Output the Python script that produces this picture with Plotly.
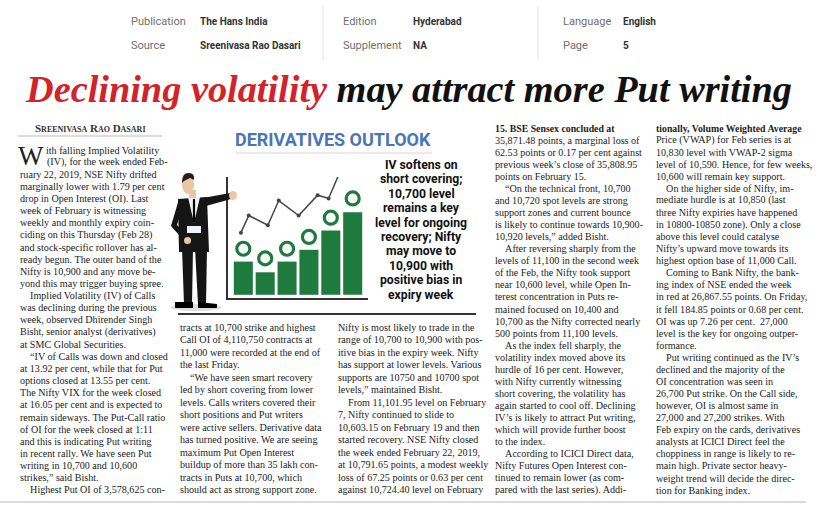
import plotly.graph_objects as go

W, H = 825, 510

SERIF = "Liberation Serif"
SANS = "Roboto"
INK = "#222222"
RED = "#d2232a"
GREEN = "#1f7a3d"
BLUE = "#4a76b9"

# ---- clipping header ----
meta_labels = ["Publication", "Source", "Edition", "Supplement", "Language", "Page"]
meta_values = ["The Hans India", "Sreenivasa Rao Dasari", "Hyderabad", "NA", "English", "5"]

title_red = "Declining volatility"
title_black = "may attract more Put writing"
byline = "Sreenivasa Rao Dasari"

# ---- infographic ----
box_title = "DERIVATIVES OUTLOOK"
box_blurb = [
    "IV softens on", "short covering;", "10,700 level", "remains a key",
    "level for ongoing", "recovery; Nifty", "may move to", "10,900 with",
    "positive bias in", "expiry week",
]
bar_values = [31, 21, 31, 42, 60, 77]
ring_values = [43, 34, 43, 54, 72, 90]
trend_x = [-0.11, 0.25, 1.12, 1.62, 2.53, 3.40, 3.90, 4.36]
trend_y = [58, 74, 65, 88, 74, 93, 90, 112]

# ---- article body (leading spaces = paragraph indent) ----
col1 = [
    "ith falling Implied Volatility",
    "(IV), for the week ended Feb-",
    "ruary 22, 2019, NSE Nifty drifted",
    "marginally lower with 1.79 per cent",
    "drop in Open Interest (OI). Last",
    "week of February is witnessing",
    "weekly and monthly expiry coin-",
    "ciding on this Thursday (Feb 28)",
    "and stock-specific rollover has al-",
    "ready begun. The outer band of the",
    "Nifty is 10,900 and any move be-",
    "yond this may trigger buying spree.",
    "  Implied Volatility (IV) of Calls",
    "was declining during the previous",
    "week, observed Dhirender Singh",
    "Bisht, senior analyst (derivatives)",
    "at SMC Global Securities.",
    "  \u201cIV of Calls was down and closed",
    "at 13.92 per cent, while that for Put",
    "options closed at 13.55 per cent.",
    "The Nifty VIX for the week closed",
    "at 16.05 per cent and is expected to",
    "remain sideways. The Put-Call ratio",
    "of OI for the week closed at 1:11",
    "and this is indicating Put writing",
    "in recent rally. We have seen Put",
    "writing in 10,700 and 10,600",
    "strikes,\u201d said Bisht.",
    "  Highest Put OI of 3,578,625 con-",
]
col2 = [
    "tracts at 10,700 strike and highest",
    "Call OI of 4,110,750 contracts at",
    "11,000 were recorded at the end of",
    "the last Friday.",
    "  \u201cWe have seen smart recovery",
    "led by short covering from lower",
    "levels. Calls writers covered their",
    "short positions and Put writers",
    "were active sellers. Derivative data",
    "has turned positive. We are seeing",
    "maximum Put Open Interest",
    "buildup of more than 35 lakh con-",
    "tracts in Puts at 10,700, which",
    "should act as strong support zone.",
]
col3 = [
    "Nifty is most likely to trade in the",
    "range of 10,700 to 10,900 with pos-",
    "itive bias in the expiry week. Nifty",
    "has support at lower levels. Various",
    "supports are 10750 and 10700 spot",
    "levels,\u201d maintained Bisht.",
    "  From 11,101.95 level on February",
    "7, Nifty continued to slide to",
    "10,603.15 on February 19 and then",
    "started recovery. NSE Nifty closed",
    "the week ended February 22, 2019,",
    "at 10,791.65 points, a modest weekly",
    "loss of 67.25 points or 0.63 per cent",
    "against 10,724.40 level on February",
]
col4 = [
    "<b>15. BSE Sensex concluded at</b>",
    "35,871.48 points, a marginal loss of",
    "62.53 points or 0.17 per cent against",
    "previous week\u2019s close of 35,808.95",
    "points on February 15.",
    "  \u201cOn the technical front, 10,700",
    "and 10,720 spot levels are strong",
    "support zones and current bounce",
    "is likely to continue towards 10,900-",
    "10,920 levels,\u201d added Bisht.",
    "  After reversing sharply from the",
    "levels of 11,100 in the second week",
    "of the Feb, the Nifty took support",
    "near 10,600 level, while Open In-",
    "terest concentration in Puts re-",
    "mained focused on 10,400 and",
    "10,700 as the Nifty corrected nearly",
    "500 points from 11,100 levels.",
    "  As the index fell sharply, the",
    "volatility index moved above its",
    "hurdle of 16 per cent. However,",
    "with Nifty currently witnessing",
    "short covering, the volatility has",
    "again started to cool off. Declining",
    "IV\u2019s is likely to attract Put writing,",
    "which will provide further boost",
    "to the index.",
    "  According to ICICI Direct data,",
    "Nifty Futures Open Interest con-",
    "tinued to remain lower (as com-",
    "pared with the last series). Addi-",
]
col5 = [
    "<b>tionally, Volume Weighted Average</b>",
    "Price (VWAP) for Feb series is at",
    "10,830 level with VWAP-2 sigma",
    "level of 10,590. Hence, for few weeks,",
    "10,600 will remain key support.",
    "  On the higher side of Nifty, im-",
    "mediate hurdle is at 10,850 (last",
    "three Nifty expiries have happened",
    "in 10800-10850 zone). Only a close",
    "above this level could catalyse",
    "Nifty\u2019s upward move towards its",
    "highest option base of 11,000 Call.",
    "  Coming to Bank Nifty, the bank-",
    "ing index of NSE ended the week",
    "in red at 26,867.55 points. On Friday,",
    "it fell 184.85 points or 0.68 per cent.",
    "OI was up 7.26 per cent.  27,000",
    "level is the key for ongoing outper-",
    "formance.",
    "  Put writing continued as the IV\u2019s",
    "declined and the majority of the",
    "OI concentration was seen in",
    "26,700 Put strike. On the Call side,",
    "however, OI is almost same in",
    "27,000 and 27,200 strikes. With",
    "Feb expiry on the cards, derivatives",
    "analysts at ICICI Direct feel the",
    "choppiness in range is likely to re-",
    "main high. Private sector heavy-",
    "weight trend will decide the direc-",
    "tion for Banking index.",
]

BODY_SIZE = 10.1

fig = go.Figure()


def put(text, x, y, size=BODY_SIZE, color=INK, family=SERIF, xanchor="left", **font_kw):
    fig.add_annotation(
        x=x, y=y, xref="x", yref="y", text=text, showarrow=False,
        xanchor=xanchor, yanchor="middle", borderpad=0, borderwidth=0,
        font=dict(size=size, color=color, family=family, **font_kw),
    )


def put_column(lines, x, y0, step, x_first=None):
    for i, line in enumerate(lines):
        txt = line
        if line.startswith("  "):
            txt = "\u00a0" * 4 + line.strip()
        lx = x_first[i] if x_first and i in x_first else x
        # bold run-in lines are set a touch tighter
        size = BODY_SIZE - 0.3 if line.startswith("<b>") else BODY_SIZE
        put(txt, lx, y0 + i * step, size=size)


def shape(kind, layer="above", **kw):
    fig.add_shape(type=kind, xref="x", yref="y", layer=layer, **kw)


# header block
meta_x = [(131, 200), (131, 200), (343, 413), (343, 413), (563, 623), (563, 623)]
meta_y = [21, 45, 21, 45, 21, 45]
for lab, val, (lx, vx), yy in zip(meta_labels, meta_values, meta_x, meta_y):
    put(lab, lx, yy, size=11, color="#6f6f6f", family=SANS)
    put(val, vx, yy, size=10, color="#333", family=SANS, weight="bold")
for sx in (323, 538):
    shape("line", x0=sx, x1=sx, y0=6, y1=60, line=dict(color="#e2e2e2", width=1))

# headline
put(
    f'<span style="color:{RED}">{title_red}</span> {title_black}',
    25, 89, size=38.3, color="#111", family=SERIF, weight="bold", style="italic",
)

# byline
put(byline, 90, 128, size=11, color="#333", family=SERIF, xanchor="center",
    weight="bold", variant="small-caps")
shape("line", x0=18, x1=162, y0=136, y1=136, line=dict(color="#bbb", width=1))

# body columns (drop cap W spans the first two lines)
put("W", 18, 156, size=27, color=INK)
put_column(col1, 20, 150, 12.14, x_first={0: 46, 1: 47})
put_column(col2, 180, 327, 12.5)
put_column(col3, 338, 327, 12.5)
put_column(col4, 495, 128, 12.07)
put_column(col5, 656, 128, 12.07)

# bottom rule and rule below the infographic
shape("line", x0=0, x1=806, y0=502, y1=502, line=dict(color="#cfcfcf", width=1.5))
shape("line", x0=178, x1=476, y0=314, y1=314, line=dict(color="#333", width=2))

# infographic heading and blurb
put(box_title, 333, 139, size=18, color=BLUE, family=SANS, xanchor="center", weight="bold")
shape("line", x0=236, x1=432, y0=153, y1=153, line=dict(color="#d6d6d6", width=1))
for i, line in enumerate(box_blurb):
    put(line, 421, 165 + i * 14.4, size=12.2, color="#111", family=SANS,
        xanchor="center", weight="bold")

# businessman figure (decoration)
SUIT = "#151515"
SKIN = "#e9c7a3"
shape("circle", x0=170, x1=222, y0=304, y1=311, fillcolor="#dedede", line_width=0, layer="below")
shape("path", path="M 182 248 L 193 248 L 192 304 L 184 304 Z", fillcolor=SUIT, line_width=0)
shape("path", path="M 195 248 L 207 248 L 206 304 L 198 304 Z", fillcolor=SUIT, line_width=0)
shape("path", path="M 175 302 L 193 302 L 193 308 L 175 308 Z", fillcolor="#000", line_width=0)
shape("path", path="M 198 302 L 217 304 L 217 308 L 198 308 Z", fillcolor="#000", line_width=0)
shape("path", path="M 178 199 L 207 197 L 209 252 L 179 252 Z", fillcolor=SUIT, line_width=0)
shape("path", path="M 188 197 L 200 197 L 194 223 Z", fillcolor="#f4f4f4", line_width=0)
shape("path", path="M 187 226 L 201 226 L 201 233 L 187 233 Z", fillcolor="#eef1f6", line_width=0)
shape("line", x0=194, x1=194, y0=199, y1=222, line=dict(color="#000", width=2.2))
shape("path", path="M 179 199 L 171 226 L 186 243 L 189 239 L 177 225 L 184 203 Z",
      fillcolor=SUIT, line_width=0)
shape("circle", x0=184, x1=191, y0=237, y1=244, fillcolor=SKIN, line_width=0)
shape("path", path="M 203 198 L 230 193 L 231 199 L 206 206 Z", fillcolor=SUIT, line_width=0)
shape("circle", x0=229, x1=237, y0=191, y1=200, fillcolor=SKIN, line_width=0)
shape("path", path="M 189 190 L 196 190 L 196 198 L 189 198 Z", fillcolor=SKIN, line_width=0)
shape("circle", x0=182, x1=194, y0=175, y1=194, fillcolor=SKIN, line_width=0)
shape("path", path="M 182 183 Q 182 172 189 173 Q 195 173 194 180 L 190 178 L 184 181 Z",
      fillcolor="#2a1f18", line_width=0)

# infographic bar chart
fig.add_trace(go.Bar(
    x=list(range(len(bar_values))), y=bar_values, width=0.87,
    marker=dict(color=GREEN, line_width=0), xaxis="x2", yaxis="y2",
))
fig.add_trace(go.Scatter(
    x=trend_x, y=trend_y, mode="lines+markers", cliponaxis=False,
    line=dict(color="#444", width=1.5), marker=dict(size=4, color="#444"),
    xaxis="x2", yaxis="y2",
))
fig.add_trace(go.Scatter(
    x=list(range(len(ring_values))), y=ring_values, mode="markers", cliponaxis=False,
    marker=dict(size=13, color="white", line=dict(color=GREEN, width=3.2)),
    xaxis="x2", yaxis="y2",
))

hidden = dict(visible=False, fixedrange=True)
fig.update_layout(
    width=W, height=H,
    margin=dict(l=0, r=0, t=0, b=0),
    paper_bgcolor="white", plot_bgcolor="white",
    showlegend=False,
    xaxis=dict(range=[0, W], domain=[0, 1], **hidden),
    yaxis=dict(range=[H, 0], domain=[0, 1], **hidden),
    xaxis2=dict(
        domain=[228 / W, 368 / W], range=[-0.7, 5.7], anchor="y2",
        showline=True, linecolor="#333", linewidth=1.5,
        showgrid=False, zeroline=False, showticklabels=False, ticks="", fixedrange=True,
    ),
    yaxis2=dict(
        domain=[1 - 298 / H, 1 - 177 / H], range=[-3, 110], anchor="x2",
        showline=True, linecolor="#333", linewidth=1.5,
        showgrid=False, zeroline=False, showticklabels=False, ticks="", fixedrange=True,
    ),
)

# page body has a default 8px margin; drop it so the figure sits at the window corner
fig.write_html(
    "out.html",
    config={"displayModeBar": False},
    post_script="document.body.style.margin = '0';",
)
